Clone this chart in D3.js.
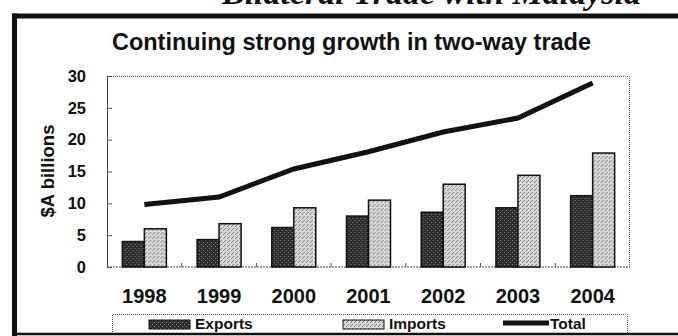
<!DOCTYPE html>
<html>
<head>
<meta charset="utf-8">
<script src="https://cdn.jsdelivr.net/npm/d3@7"></script>
<style>
  body { margin: 0; background: #fff; }
  svg { display: block; font-family: "Liberation Sans", Arial, sans-serif; }
</style>
</head>
<body>
<svg id="chart" width="678" height="336"></svg>
<script>
(function () {
  'use strict';

  // data
  var years = ['1998', '1999', '2000', '2001', '2002', '2003', '2004'];
  var exportsVals = [4.0, 4.3, 6.2, 8.0, 8.6, 9.3, 11.2];
  var importsVals = [6.0, 6.8, 9.3, 10.5, 13.0, 14.4, 17.9];
  var totalVals = [9.8, 11.0, 15.4, 18.1, 21.2, 23.4, 28.9];
  var yTicks = [0, 5, 10, 15, 20, 25, 30];
  var seriesNames = ['Exports', 'Imports'];

  var svg = d3.select('#chart'),
      margin = {top: 76, right: 48, bottom: 69, left: 107},
      width = +svg.attr('width') - margin.left - margin.right,
      height = +svg.attr('height') - margin.top - margin.bottom,
      ink = '#111';

  // stipple patterns for the bars
  var defs = svg.append('defs');
  function stipple(id, base, dot, step) {
    var p = defs.append('pattern')
        .attr('id', id)
        .attr('patternUnits', 'userSpaceOnUse')
        .attr('width', 4).attr('height', 4);
    p.append('rect').attr('width', 4).attr('height', 4).attr('fill', base);
    p.append('rect').attr('x', 0).attr('y', 0).attr('width', 1).attr('height', 1).attr('fill', dot);
    p.append('rect').attr('x', 2).attr('y', 2).attr('width', 1).attr('height', 1).attr('fill', dot);
    if (step) {
      p.append('rect').attr('x', 3).attr('y', 1).attr('width', 1).attr('height', 1).attr('fill', dot);
    }
  }
  stipple('patExports', '#2b2b2b', '#8a8a8a', false);
  stipple('patImports', '#dadada', '#7a7a7a', true);
  var fills = {Exports: 'url(#patExports)', Imports: 'url(#patImports)'};

  // heading of the page above the panel, cut off by the top edge
  svg.append('text')
      .attr('x', 222)
      .attr('y', 3.5)
      .attr('font-family', '"Liberation Serif", serif')
      .attr('font-style', 'italic')
      .attr('font-weight', 'bold')
      .attr('font-size', 34)
      .attr('fill', ink)
      .text('Bilateral Trade with Malaysia');

  // outer frame
  svg.append('line').attr('x1', 12).attr('x2', 678).attr('y1', 16).attr('y2', 16)
      .attr('stroke', ink).attr('stroke-width', 5);
  svg.append('line').attr('x1', 14.5).attr('x2', 14.5).attr('y1', 13.5).attr('y2', 336)
      .attr('stroke', ink).attr('stroke-width', 5);

  // title
  svg.append('text')
      .attr('x', 351.5)
      .attr('y', 50)
      .attr('text-anchor', 'middle')
      .attr('font-weight', 'bold')
      .attr('font-size', 23.5)
      .attr('fill', ink)
      .text('Continuing strong growth in two-way trade');

  var g = svg.append('g')
      .attr('transform', 'translate(' + margin.left + ',' + margin.top + ')');

  var x0 = d3.scaleBand().domain(years).range([0, width]);
  var x1 = d3.scaleBand().domain(seriesNames).range([0, 44]);
  var y = d3.scaleLinear().domain([0, 30]).range([height, 0]);

  // plot frame: dotted top/right
  g.append('path')
      .attr('d', 'M0,0.5H' + (width - 0.5) + 'V' + height)
      .attr('fill', 'none')
      .attr('stroke', '#555')
      .attr('stroke-width', 1)
      .attr('stroke-dasharray', '1,1');

  // y axis
  var yAxis = d3.axisLeft(y).tickValues(yTicks).tickSize(-5).tickPadding(21);
  var yAxisGroup = g.append('g').attr('class', 'y axis').call(yAxis);
  yAxisGroup.select('.domain').attr('stroke', '#444');
  yAxisGroup.selectAll('.tick line').attr('stroke', '#555');
  yAxisGroup.selectAll('.tick text')
      .attr('font-size', 16.5)
      .attr('font-weight', 'bold')
      .attr('fill', ink)
      .attr('font-family', '"Liberation Sans", Arial, sans-serif');

  // x axis: ticks sit between the groups
  var xAxisGroup = g.append('g')
      .attr('class', 'x axis')
      .attr('transform', 'translate(0,' + height + ')');
  xAxisGroup.append('line')
      .attr('x1', 0).attr('x2', width)
      .attr('stroke', '#444')
      .attr('stroke-dasharray', '2,1');
  xAxisGroup.selectAll('.sep')
      .data(years.slice(1))
    .enter().append('line')
      .attr('class', 'sep')
      .attr('x1', function (d) { return x0(d); })
      .attr('x2', function (d) { return x0(d); })
      .attr('y1', 0).attr('y2', -4)
      .attr('stroke', '#555');
  xAxisGroup.selectAll('.label')
      .data(years)
    .enter().append('text')
      .attr('class', 'label')
      .attr('x', function (d) { return x0(d) + x0.bandwidth() / 2; })
      .attr('y', 36)
      .attr('text-anchor', 'middle')
      .attr('font-size', 20)
      .attr('font-weight', 'bold')
      .attr('fill', ink)
      .text(function (d) { return d; });

  // y axis title
  svg.append('text')
      .attr('transform', 'translate(54,171) rotate(-90)')
      .attr('text-anchor', 'middle')
      .attr('font-size', 18.5)
      .attr('font-weight', 'bold')
      .attr('fill', ink)
      .text('$A billions');

  // bars
  var groups = g.selectAll('.year')
      .data(years)
    .enter().append('g')
      .attr('class', 'year')
      .attr('transform', function (d) {
        return 'translate(' + (x0(d) + x0.bandwidth() / 2 - 22) + ',0)';
      });

  groups.selectAll('rect')
      .data(function (d, i) {
        return [
          {key: 'Exports', value: exportsVals[i]},
          {key: 'Imports', value: importsVals[i]}
        ];
      })
    .enter().append('rect')
      .attr('x', function (d) { return x1(d.key); })
      .attr('y', function (d) { return y(d.value); })
      .attr('width', x1.bandwidth())
      .attr('height', function (d) { return height - y(d.value); })
      .attr('fill', function (d) { return fills[d.key]; })
      .attr('stroke', ink)
      .attr('stroke-width', 1.5);

  // total line
  var line = d3.line()
      .x(function (d, i) { return x0(years[i]) + x0.bandwidth() / 2; })
      .y(function (d) { return y(d); });

  g.append('path')
      .datum(totalVals)
      .attr('d', line)
      .attr('fill', 'none')
      .attr('stroke', ink)
      .attr('stroke-width', 5);

  // legend
  var legend = svg.append('g').attr('class', 'legend');
  legend.append('path')
      .attr('d', 'M112.5,334V314.5H627.5V334')
      .attr('fill', '#fff')
      .attr('stroke', '#555')
      .attr('stroke-dasharray', '1,1');

  var legendItems = [
    {name: 'Exports', x: 149},
    {name: 'Imports', x: 343},
    {name: 'Total', x: 503}
  ];
  legendItems.forEach(function (item) {
    if (item.name === 'Total') {
      legend.append('line')
          .attr('x1', item.x).attr('x2', item.x + 46)
          .attr('y1', 323).attr('y2', 323)
          .attr('stroke', ink).attr('stroke-width', 5);
    } else {
      legend.append('rect')
          .attr('x', item.x).attr('y', 320)
          .attr('width', 41).attr('height', 9)
          .attr('fill', fills[item.name])
          .attr('stroke', ink).attr('stroke-width', 1);
    }
    legend.append('text')
        .attr('x', item.x + (item.name === 'Total' ? 47 : 46))
        .attr('y', 329)
        .attr('font-size', 15.5)
        .attr('font-weight', 'bold')
        .attr('fill', ink)
        .text(item.name);
  });

  // bottom edge of the frame
  svg.append('line').attr('x1', 12).attr('x2', 678).attr('y1', 334).attr('y2', 334)
      .attr('stroke', ink).attr('stroke-width', 2.5);
})();
</script>
</body>
</html>
